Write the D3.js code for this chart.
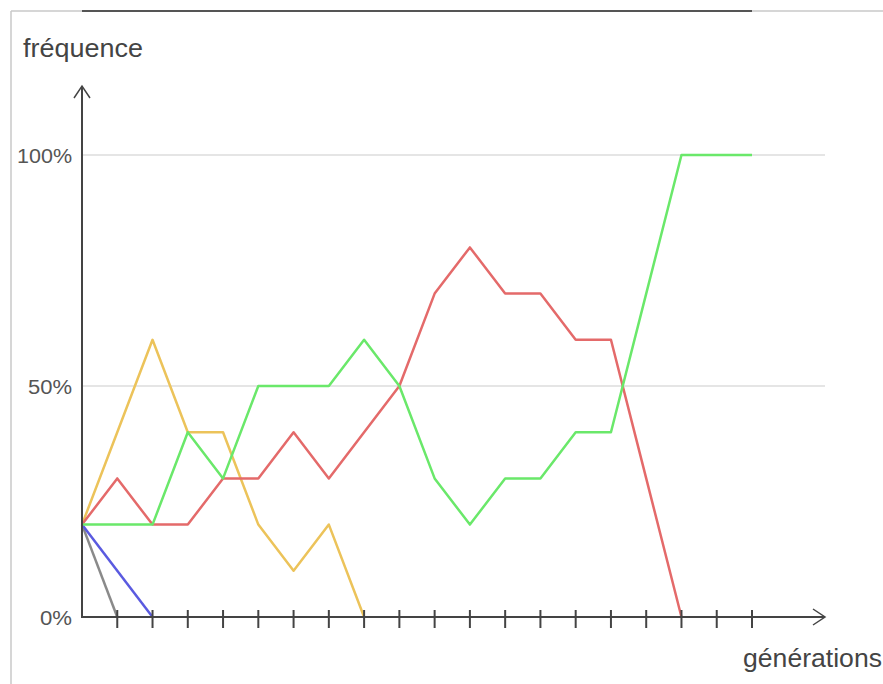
<!DOCTYPE html>
<html><head><meta charset="utf-8">
<script src="https://cdn.jsdelivr.net/npm/d3@7"></script>
<style>body{margin:0;background:#fff}svg{display:block}</style>
</head><body><svg id="c" width="883" height="684"></svg>
<script>
const generations = d3.range(0, 20);
const yTicks = [0, 50, 100];
const yTickLabels = ["0%", "50%", "100%"];
const green  = [20,20,20,40,30,50,50,50,60,50,30,20,30,30,40,40,70,100,100,100];
const red    = [20,30,20,20,30,30,40,30,40,50,70,80,70,70,60,60,30,0];
const yellow = [20,40,60,40,40,20,10,20,0];
const blue   = [20,10,0];
const grey   = [20,0];
const seriesList = [
  {name:"gris", values:grey, color:"#8a8a8a"},
  {name:"bleu", values:blue, color:"#5a5ae0"},
  {name:"jaune", values:yellow, color:"#ecc35a"},
  {name:"rouge", values:red, color:"#e46a6a"},
  {name:"vert", values:green, color:"#6ae86a"}
];

const svg = d3.select("#c");
const x = d3.scaleLinear().domain([0, 19]).range([82, 752]);
const y = d3.scaleLinear().domain([0, 100]).range([617, 155]);
const FONT = "Liberation Sans, Arial, Helvetica, sans-serif";

// frame
svg.append("line").attr("x1",11).attr("x2",883).attr("y1",11).attr("y2",11).attr("stroke","#c8c8c8").attr("stroke-width",1.5);
svg.append("line").attr("x1",82).attr("x2",752).attr("y1",11).attr("y2",11).attr("stroke","#555").attr("stroke-width",2);
svg.append("line").attr("x1",11).attr("x2",11).attr("y1",11).attr("y2",684).attr("stroke","#c8c8c8").attr("stroke-width",1.5);

// grid
svg.append("g").selectAll("line").data(yTicks.filter(d=>d>0)).join("line")
  .attr("x1",82).attr("x2",825).attr("y1",d=>y(d)).attr("y2",d=>y(d))
  .attr("stroke","#dcdcdc").attr("stroke-width",1.5);

// y labels
const labelWidths = [32, 44, 55];
svg.append("g").selectAll("text").data(yTicks).join("text")
  .attr("x",(d,i)=>72-labelWidths[i]).attr("y",d=>y(d)+8)
  .attr("textLength",(d,i)=>labelWidths[i]).attr("lengthAdjust","spacingAndGlyphs")
  .attr("font-family",FONT).attr("font-size",20)
  .attr("fill","#555").text((d,i)=>yTickLabels[i]);

// lines
const line = d3.line().x((d,i)=>x(i)).y(d=>y(d));
svg.append("g").selectAll("path").data(seriesList).join("path")
  .attr("d",s=>line(s.values)).attr("fill","none")
  .attr("stroke",s=>s.color).attr("stroke-width",2.5).attr("stroke-linejoin","round");

// axes
const ax = svg.append("g").attr("stroke","#444").attr("stroke-width",2).attr("fill","none");
ax.append("line").attr("x1",82).attr("x2",82).attr("y1",618).attr("y2",86);
ax.append("path").attr("d","M74,98 L82,86 L90,98").attr("stroke-width",1.5);
ax.append("line").attr("x1",81).attr("x2",824).attr("y1",617).attr("y2",617);
ax.append("path").attr("d","M813,609 L825,617 L813,625").attr("stroke-width",1.5);
ax.selectAll("line.tick").data(generations.slice(1)).join("line").attr("class","tick")
  .attr("x1",d=>x(d)).attr("x2",d=>x(d)).attr("y1",610).attr("y2",628);

svg.append("text").attr("x",23).attr("y",57).attr("font-family",FONT)
  .attr("font-size",25).attr("textLength",120).attr("lengthAdjust","spacingAndGlyphs")
  .attr("fill","#444").text("fréquence");
svg.append("text").attr("x",743).attr("y",667).attr("font-family",FONT)
  .attr("font-size",25).attr("textLength",139).attr("lengthAdjust","spacingAndGlyphs")
  .attr("fill","#444").text("générations");
</script></body></html>
